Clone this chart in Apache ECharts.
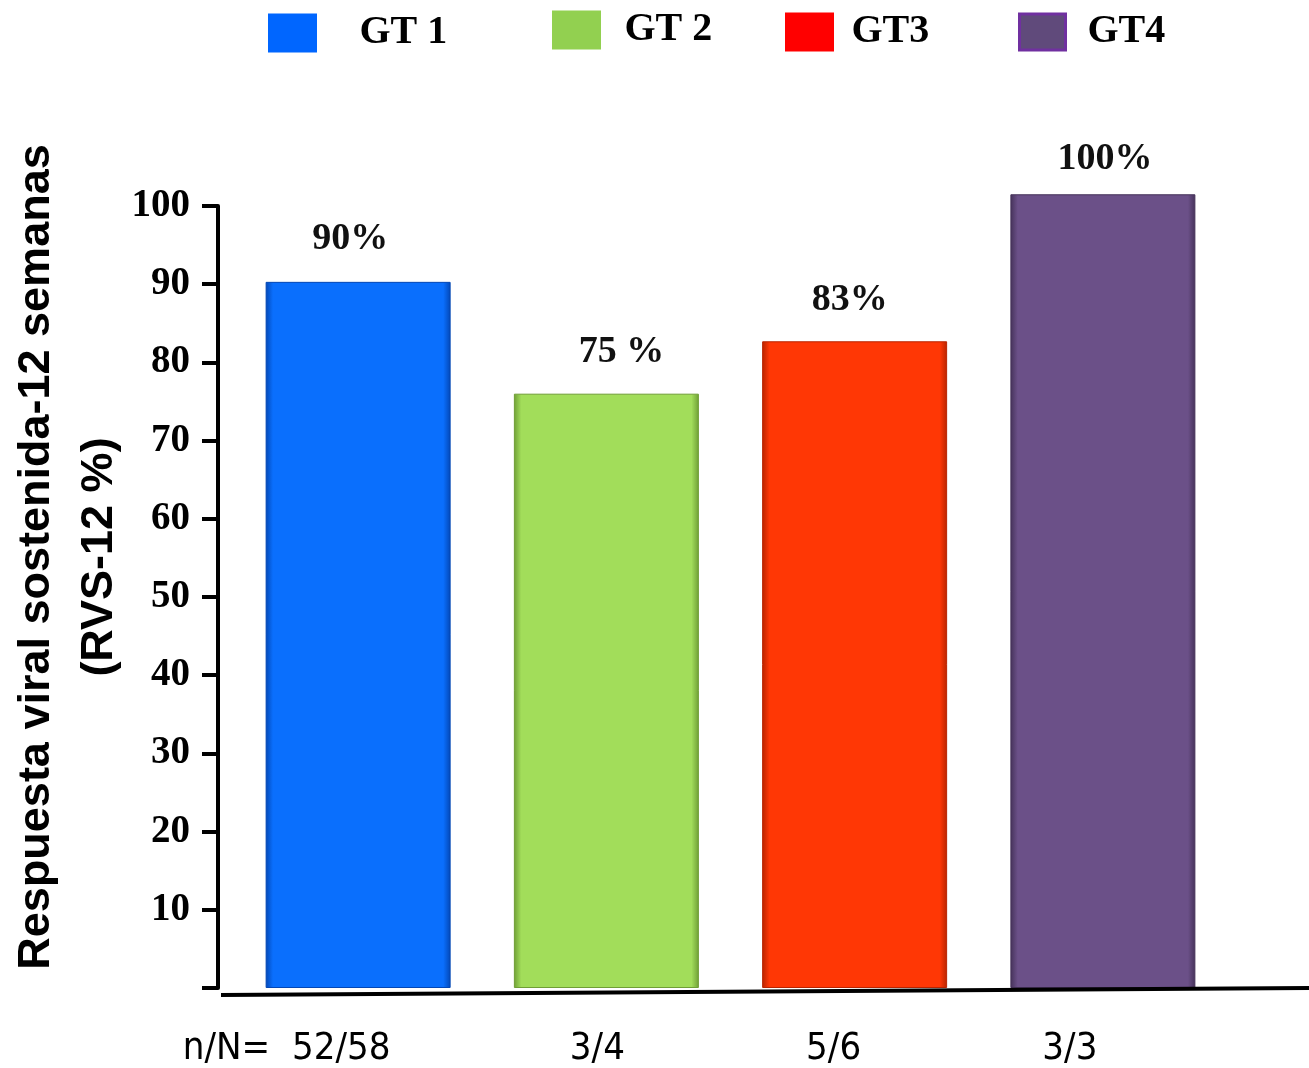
<!DOCTYPE html>
<html>
<head>
<meta charset="utf-8">
<script src="https://cdn.jsdelivr.net/npm/echarts@6/dist/echarts.min.js"></script>
<style>
  html, body { margin: 0; padding: 0; background: #ffffff; }
  #chart { width: 1309px; height: 1068px; }
</style>
</head>
<body>
<div id="chart"></div>
<script>
// ---- data ----
var seriesNames = ['GT 1', 'GT 2', 'GT3', 'GT4'];
var barValues = [90.3, 76, 82.7, 101.5];
var barLabels = ['90%', '75 %', '83%', '100%'];
var nLabels = ['n/N=  52/58', '3/4', '5/6', '3/3'];
var yTicks = [0, 10, 20, 30, 40, 50, 60, 70, 80, 90, 100];

// ---- styles ----
var barColors = ['#0a6ffd', '#a2dd5a', '#ff3705', '#6b5088'];
var barEdges = ['#0347b5', '#6f9e35', '#b82400', '#453259'];
var legendColors = ['#0066ff', '#92d050', '#ff0000', '#604a7b'];
var legendBorders = ['#0066ff', '#92d050', '#ff0000', '#7030a0'];
var legendLeft = [268, 552, 785, 1018];
var legendTop = [13, 10, 12, 12];
var legendTextPad = [39, 20, 14, 17];
var labelShift = [143, 18, 42, 66];
var labelOffsets = [[-8, -2], [15, 0], [-5, 0], [2, 6]];

var chart = echarts.init(document.getElementById('chart'));

var series = seriesNames.map(function (name, i) {
  var data = barValues.map(function (v, j) { return j === i ? v : null; });
  return {
    name: name,
    type: 'bar',
    stack: 'all',
    barWidth: 185,
    clip: false,
    data: data,
    itemStyle: {
      color: new echarts.graphic.LinearGradient(0, 0, 1, 0, [
        { offset: 0, color: barEdges[i] },
        { offset: 0.04, color: barColors[i] },
        { offset: 0.96, color: barColors[i] },
        { offset: 1, color: barEdges[i] }
      ]),
      borderColor: barEdges[i],
      borderWidth: 1
    },
    label: {
      show: true,
      position: 'top',
      distance: 22,
      offset: labelOffsets[i],
      formatter: function () { return barLabels[i]; },
      fontFamily: 'Liberation Serif',
      fontWeight: 'bold',
      fontSize: 38,
      color: '#111'
    }
  };
});

var legends = seriesNames.map(function (name, i) {
  return {
    left: legendLeft[i],
    top: legendTop[i],
    padding: 0,
    itemWidth: 46,
    itemHeight: 36,
    icon: 'rect',
    selectedMode: false,
    data: [{
      name: name,
      itemStyle: { color: legendColors[i], borderColor: legendBorders[i], borderWidth: 3 }
    }],
    textStyle: {
      fontFamily: 'Liberation Serif',
      fontWeight: 'bold',
      fontSize: 40,
      color: '#000',
      padding: [0, 0, 0, legendTextPad[i]]
    }
  };
});

var richStyles = {
  t: { fontFamily: 'DejaVu Sans Condensed', fontSize: 38, color: '#000' }
};
labelShift.forEach(function (s, i) { richStyles['p' + i] = { width: s, height: 10 }; });

chart.setOption({
  animation: false,
  backgroundColor: '#ffffff',
  legend: legends,
  grid: { left: 234, right: 82, top: 206, bottom: 80, containLabel: false, outerBoundsMode: 'none' },
  xAxis: {
    type: 'category',
    data: seriesNames,
    axisLine: { show: false },
    axisTick: { show: false },
    axisLabel: {
      margin: 42,
      formatter: function (v, idx) { return '{t|' + nLabels[idx] + '}{p' + idx + '|}'; },
      rich: richStyles
    }
  },
  yAxis: {
    type: 'value',
    min: yTicks[0],
    max: yTicks[yTicks.length - 1],
    interval: 10,
    offset: 16,
    splitLine: { show: false },
    axisLine: { show: true, lineStyle: { color: '#000', width: 4 } },
    axisTick: { show: true, length: 16, lineStyle: { color: '#000', width: 4 } },
    axisLabel: {
      margin: 28,
      fontFamily: 'Liberation Serif',
      fontWeight: 'bold',
      fontSize: 39,
      color: '#000',
      formatter: function (v) { return v === 0 ? '' : String(v); }
    }
  },
  graphic: [
    {
      type: 'line',
      shape: { x1: 221, y1: 995, x2: 1309, y2: 988 },
      style: { stroke: '#000', lineWidth: 4 },
      z: 10
    },
    {
      type: 'text',
      x: 68,
      y: 557,
      rotation: Math.PI / 2,
      style: {
        text: 'Respuesta viral sostenida-12 semanas\n(RVS-12 %)',
        fontFamily: 'Liberation Sans',
        fontWeight: 'bold',
        fontSize: 45,
        lineHeight: 63,
        fill: '#000',
        align: 'center',
        verticalAlign: 'middle'
      }
    }
  ],
  series: series
});
</script>
</body>
</html>
